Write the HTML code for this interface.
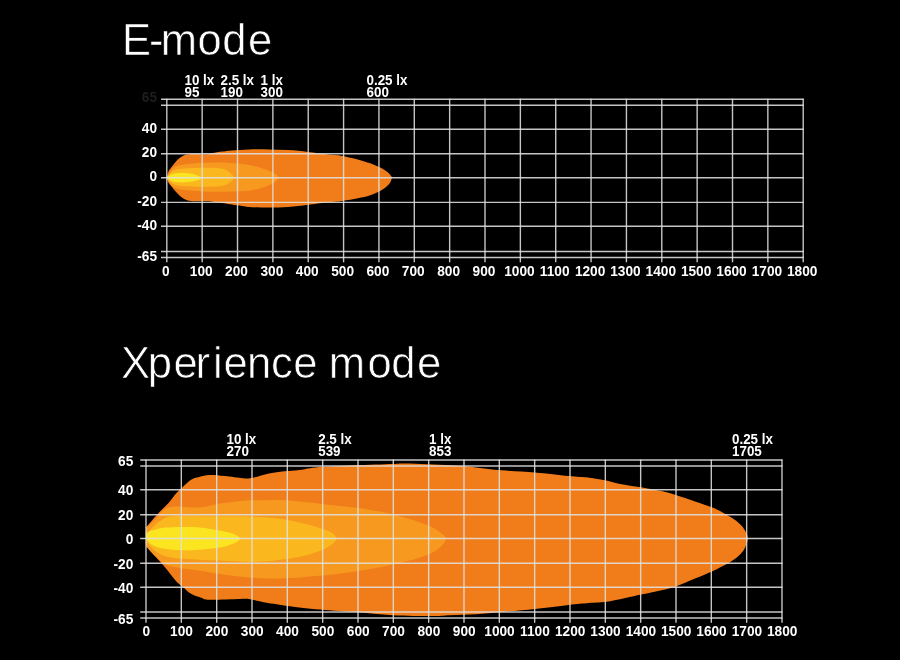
<!DOCTYPE html>
<html><head><meta charset="utf-8"><title>Beam pattern</title>
<style>
html,body{margin:0;padding:0;background:#000;}
body{width:900px;height:660px;overflow:hidden;}
svg{display:block;}
.ttl{font-family:"Liberation Sans",sans-serif;font-size:39px;fill:#fff;}
.lab{font-family:"Liberation Sans",sans-serif;font-size:13.7px;font-weight:bold;fill:#fff;}
.lx{font-size:13.4px;}
</style></head><body>
<svg width="900" height="660" viewBox="0 0 900 660">
<rect width="900" height="660" fill="#000"/>
<text class="ttl" x="122 149 160.8 197.6 222.3 248.1" y="54.6" style="font-size:43.5px" stroke="#000" stroke-width="0.6">E-mode</text>
<text class="ttl" x="121 147.8 173.6 195.6 213.1 223.6 247 270.9 293.3 317 328.7 367.4 391.3 416.9" y="377.8" style="font-size:43.6px" stroke="#000" stroke-width="0.7">Xperience mode</text>
<path fill="#f07d1a" d="M167.2 177.7 C167.2 175.9 167.6 173.5 168.4 171.7 C169.2 169.9 170.6 168.4 171.8 166.8 C173.0 165.2 174.3 163.4 175.6 162.0 C176.9 160.6 178.0 159.2 179.5 158.1 C181.0 157.0 182.8 155.8 184.4 155.2 C186.0 154.5 186.5 154.4 189.2 154.2 C191.9 154.0 197.7 154.2 200.8 154.2 C203.9 154.2 205.3 154.4 207.6 154.2 C209.9 154.0 212.0 153.2 214.4 152.8 C216.8 152.4 219.3 152.0 222.2 151.6 C225.1 151.2 227.4 150.8 231.9 150.4 C236.4 150.0 243.2 149.6 249.4 149.4 C255.6 149.2 262.3 149.3 268.8 149.4 C275.3 149.5 281.7 149.7 288.2 150.1 C294.7 150.5 301.6 151.3 308.0 152.0 C314.4 152.7 321.0 153.7 326.7 154.3 C332.4 155.0 337.0 155.1 342.2 155.9 C347.4 156.8 353.1 158.2 357.8 159.4 C362.5 160.6 366.6 162.0 370.2 163.3 C373.8 164.6 376.6 165.8 379.5 167.2 C382.4 168.6 385.4 170.4 387.3 171.9 C389.2 173.4 390.5 174.9 391.2 176.0 C391.9 177.1 392.1 177.0 391.7 178.4 C391.3 179.8 390.7 182.3 388.9 184.3 C387.1 186.3 384.2 188.7 381.1 190.5 C378.0 192.3 374.1 193.9 370.2 195.2 C366.3 196.5 362.5 197.3 357.8 198.3 C353.1 199.3 347.4 200.3 342.2 201.0 C337.0 201.7 332.4 201.9 326.7 202.5 C321.0 203.1 314.4 204.0 308.0 204.8 C301.6 205.6 294.7 206.6 288.2 207.1 C281.7 207.6 275.3 207.6 268.8 207.6 C262.3 207.6 254.2 207.4 249.4 207.1 C244.6 206.8 242.9 206.1 239.7 205.6 C236.5 205.1 232.6 204.6 230.0 204.2 C227.4 203.8 226.7 203.6 224.1 203.2 C221.5 202.8 217.2 202.3 214.4 202.0 C211.7 201.7 210.5 201.4 207.6 201.3 C204.7 201.2 200.1 201.4 197.0 201.3 C193.9 201.2 191.5 201.3 189.2 200.8 C186.9 200.3 185.0 199.3 183.4 198.4 C181.8 197.5 180.8 196.6 179.5 195.5 C178.2 194.4 176.9 193.1 175.6 191.6 C174.3 190.1 173.0 188.2 171.8 186.7 C170.6 185.2 169.2 183.9 168.4 182.4 C167.6 180.9 167.2 179.5 167.2 177.7Z"/>
<path fill="#f6991e" d="M167.2 177.7 C167.2 175.0 170.4 171.4 171.8 169.5 C173.2 167.6 173.7 167.3 175.6 166.5 C177.5 165.7 178.9 165.0 183.4 164.4 C187.9 163.8 196.3 163.0 202.8 162.7 C209.3 162.4 217.7 162.4 222.2 162.5 C226.7 162.6 226.3 162.7 230.0 163.0 C233.7 163.3 240.0 163.6 244.5 164.2 C249.0 164.8 253.1 165.7 257.2 166.8 C261.2 167.9 265.7 169.5 268.8 170.7 C271.9 171.9 274.0 173.0 275.6 174.1 C277.2 175.2 278.5 176.3 278.5 177.5 C278.5 178.7 277.2 180.1 275.6 181.4 C274.0 182.7 271.6 184.1 268.8 185.3 C266.1 186.5 263.2 187.7 259.1 188.7 C255.1 189.7 249.3 190.6 244.5 191.1 C239.7 191.6 233.7 191.5 230.0 191.6 C226.3 191.7 226.7 191.8 222.2 191.8 C217.7 191.8 209.3 191.7 202.8 191.4 C196.3 191.1 187.9 190.7 183.4 190.1 C178.9 189.5 177.5 188.8 175.6 188.0 C173.7 187.2 173.2 187.2 171.8 185.5 C170.4 183.8 167.2 180.4 167.2 177.7Z"/>
<path fill="#fbb81e" d="M167.2 177.7 C167.2 176.0 169.5 173.8 171.0 172.5 C172.5 171.2 173.1 170.5 176.0 169.8 C178.9 169.1 182.9 168.6 188.2 168.3 C193.5 168.0 201.9 167.7 207.6 167.8 C213.3 167.9 218.6 168.1 222.2 168.8 C225.8 169.5 227.1 170.5 229.0 172.0 C230.9 173.5 233.8 175.9 233.8 177.7 C233.8 179.5 230.9 181.7 229.0 183.0 C227.1 184.3 225.8 185.2 222.2 185.8 C218.6 186.4 214.1 186.6 207.6 186.7 C201.1 186.8 188.7 186.5 183.4 186.2 C178.1 185.9 178.1 185.6 176.0 185.0 C173.9 184.4 172.5 183.7 171.0 182.5 C169.5 181.3 167.2 179.4 167.2 177.7Z"/>
<path fill="#fbe520" d="M167.2 177.7 C167.2 176.7 169.5 175.2 171.0 174.5 C172.5 173.8 173.9 173.5 176.0 173.2 C178.1 172.9 180.7 172.6 183.4 172.7 C186.1 172.8 189.6 173.3 192.0 173.8 C194.4 174.3 196.4 175.2 198.0 175.8 C199.6 176.5 201.8 177.0 201.8 177.7 C201.8 178.4 199.6 179.4 198.0 180.0 C196.4 180.6 194.4 181.1 192.0 181.5 C189.6 181.9 186.1 182.3 183.4 182.4 C180.7 182.5 178.1 182.3 176.0 182.0 C173.9 181.7 172.5 181.4 171.0 180.7 C169.5 180.0 167.2 178.7 167.2 177.7Z"/>
<g stroke="#e0e0e0" stroke-opacity="0.88" stroke-width="1.4" fill="none"><line x1="161.0" y1="99.20" x2="803.7" y2="99.20"/><line x1="161.0" y1="105.20" x2="803.7" y2="105.20"/><line x1="161.0" y1="129.20" x2="803.7" y2="129.20"/><line x1="161.0" y1="153.80" x2="803.7" y2="153.80"/><line x1="161.0" y1="177.80" x2="803.7" y2="177.80"/><line x1="161.0" y1="202.40" x2="803.7" y2="202.40"/><line x1="161.0" y1="226.30" x2="803.7" y2="226.30"/><line x1="161.0" y1="251.50" x2="803.7" y2="251.50"/><line x1="161.0" y1="257.50" x2="803.7" y2="257.50"/><line x1="166.80" y1="98.7" x2="166.80" y2="262.3"/><line x1="202.16" y1="98.7" x2="202.16" y2="262.3"/><line x1="237.51" y1="98.7" x2="237.51" y2="262.3"/><line x1="272.87" y1="98.7" x2="272.87" y2="262.3"/><line x1="308.22" y1="98.7" x2="308.22" y2="262.3"/><line x1="343.58" y1="98.7" x2="343.58" y2="262.3"/><line x1="378.94" y1="98.7" x2="378.94" y2="262.3"/><line x1="414.29" y1="98.7" x2="414.29" y2="262.3"/><line x1="449.65" y1="98.7" x2="449.65" y2="262.3"/><line x1="485.00" y1="98.7" x2="485.00" y2="262.3"/><line x1="520.36" y1="98.7" x2="520.36" y2="262.3"/><line x1="555.72" y1="98.7" x2="555.72" y2="262.3"/><line x1="591.07" y1="98.7" x2="591.07" y2="262.3"/><line x1="626.43" y1="98.7" x2="626.43" y2="262.3"/><line x1="661.78" y1="98.7" x2="661.78" y2="262.3"/><line x1="697.14" y1="98.7" x2="697.14" y2="262.3"/><line x1="732.50" y1="98.7" x2="732.50" y2="262.3"/><line x1="767.85" y1="98.7" x2="767.85" y2="262.3"/><line x1="803.21" y1="98.7" x2="803.21" y2="262.3"/></g>
<g class="lab" text-anchor="end"><text transform="translate(157.1 101.5) scale(1 1.04)" fill="#1e1e1e">65</text><text transform="translate(157.1 132.5) scale(1 1.04)">40</text><text transform="translate(157.1 157.1) scale(1 1.04)">20</text><text transform="translate(157.1 181.1) scale(1 1.04)">0</text><text transform="translate(157.1 205.7) scale(1 1.04)">-20</text><text transform="translate(157.1 229.6) scale(1 1.04)">-40</text><text transform="translate(157.1 260.8) scale(1 1.04)">-65</text></g>
<g class="lab" text-anchor="middle"><text transform="translate(165.8 275.5) scale(1 1.04)">0</text><text transform="translate(201.2 275.5) scale(1 1.04)">100</text><text transform="translate(236.5 275.5) scale(1 1.04)">200</text><text transform="translate(271.9 275.5) scale(1 1.04)">300</text><text transform="translate(307.2 275.5) scale(1 1.04)">400</text><text transform="translate(342.6 275.5) scale(1 1.04)">500</text><text transform="translate(377.9 275.5) scale(1 1.04)">600</text><text transform="translate(413.3 275.5) scale(1 1.04)">700</text><text transform="translate(448.6 275.5) scale(1 1.04)">800</text><text transform="translate(484.0 275.5) scale(1 1.04)">900</text><text transform="translate(519.4 275.5) scale(1 1.04)">1000</text><text transform="translate(554.7 275.5) scale(1 1.04)">1100</text><text transform="translate(590.1 275.5) scale(1 1.04)">1200</text><text transform="translate(625.4 275.5) scale(1 1.04)">1300</text><text transform="translate(660.8 275.5) scale(1 1.04)">1400</text><text transform="translate(696.1 275.5) scale(1 1.04)">1500</text><text transform="translate(731.5 275.5) scale(1 1.04)">1600</text><text transform="translate(766.9 275.5) scale(1 1.04)">1700</text><text transform="translate(802.2 275.5) scale(1 1.04)">1800</text></g>
<g class="lab lx"><text transform="translate(184.5 85.0) scale(1 1.04)">10 lx</text><text transform="translate(184.5 97.0) scale(1 1.04)">95</text><text transform="translate(220.5 85.0) scale(1 1.04)">2.5 lx</text><text transform="translate(220.5 97.0) scale(1 1.04)">190</text><text transform="translate(260.5 85.0) scale(1 1.04)">1 lx</text><text transform="translate(260.5 97.0) scale(1 1.04)">300</text><text transform="translate(366.5 85.0) scale(1 1.04)">0.25 lx</text><text transform="translate(366.5 97.0) scale(1 1.04)">600</text></g>
<path fill="#f07d1a" d="M146.0 538.5 C146.0 535.3 146.1 529.3 146.1 527.5 C146.1 525.7 144.1 529.9 146.1 527.5 C148.1 525.1 154.6 517.3 158.3 513.3 C162.0 509.3 165.3 506.6 168.3 503.3 C171.3 500.0 173.9 496.1 176.1 493.6 C178.2 491.1 178.6 490.9 181.2 488.5 C183.8 486.1 188.5 481.4 191.5 479.5 C194.5 477.6 196.2 477.6 199.2 476.9 C202.2 476.2 205.3 475.2 209.6 475.1 C213.9 475.0 219.4 475.6 225.0 476.1 C230.6 476.6 238.3 477.9 243.0 478.2 C247.7 478.5 249.0 478.5 253.3 477.7 C257.6 476.9 263.6 474.6 268.8 473.5 C274.0 472.4 279.1 471.8 284.3 471.2 C289.5 470.6 294.8 470.5 300.0 469.9 C305.2 469.3 306.7 468.2 315.8 467.4 C324.9 466.6 341.5 465.9 354.4 465.3 C367.3 464.7 384.4 464.3 393.0 464.0 C401.6 463.7 396.4 463.3 405.9 463.5 C415.4 463.7 438.4 464.7 450.0 465.3 C461.6 465.9 467.2 466.6 475.8 467.4 C484.4 468.2 491.6 469.4 501.5 470.3 C511.4 471.2 523.8 471.5 535.0 472.5 C546.2 473.5 559.5 475.2 568.5 476.1 C577.5 477.0 583.1 477.0 589.1 477.7 C595.1 478.4 599.5 479.2 604.6 480.2 C609.8 481.2 614.0 482.7 620.0 483.9 C626.0 485.1 634.0 486.0 640.9 487.2 C647.8 488.4 655.7 489.8 661.5 491.1 C667.3 492.4 670.1 493.2 675.7 494.9 C681.3 496.6 688.8 499.2 695.0 501.4 C701.2 503.5 707.9 505.7 713.0 507.8 C718.1 509.9 722.0 512.1 725.9 514.2 C729.8 516.4 733.4 518.6 736.2 520.7 C739.0 522.9 741.0 525.0 742.7 527.1 C744.4 529.2 745.6 531.7 746.5 533.6 C747.4 535.5 747.9 536.8 747.8 538.7 C747.7 540.6 746.9 543.1 746.0 545.2 C745.1 547.4 744.3 549.5 742.7 551.6 C741.1 553.7 739.0 555.9 736.2 558.0 C733.4 560.1 729.8 562.4 725.9 564.5 C722.0 566.6 718.1 568.5 713.0 570.9 C707.9 573.2 701.2 576.0 695.0 578.6 C688.8 581.2 681.3 584.5 675.7 586.4 C670.1 588.3 667.3 588.8 661.5 590.2 C655.7 591.6 649.5 592.8 640.9 594.6 C632.3 596.5 618.6 599.9 610.0 601.3 C601.4 602.7 596.0 602.5 589.1 603.1 C582.2 603.7 577.5 603.9 568.5 604.9 C559.5 605.9 546.2 607.8 535.0 609.0 C523.8 610.2 511.4 611.2 501.5 612.1 C491.6 613.0 484.4 613.7 475.8 614.2 C467.2 614.7 457.4 614.9 450.0 615.2 C442.6 615.5 441.2 616.0 431.7 616.0 C422.2 616.0 405.9 615.9 393.0 615.2 C380.1 614.6 367.3 613.1 354.4 612.1 C341.5 611.1 326.5 610.2 315.8 609.2 C305.1 608.2 296.5 607.1 290.0 606.3 C283.5 605.5 280.9 604.8 276.7 604.2 C272.5 603.6 269.4 603.3 265.0 602.5 C260.6 601.7 254.2 599.8 250.0 599.2 C245.8 598.6 246.7 598.9 240.0 599.0 C233.3 599.1 216.0 600.0 209.6 599.8 C203.2 599.6 204.8 599.0 201.8 598.0 C198.8 597.0 194.5 595.8 191.5 594.1 C188.5 592.4 186.4 589.9 183.8 587.7 C181.2 585.6 179.1 584.4 176.1 581.2 C173.1 578.0 169.2 572.4 165.8 568.3 C162.4 564.2 158.8 560.4 155.5 556.8 C152.2 553.2 147.7 548.2 146.1 546.5 C144.5 544.8 146.1 547.8 146.1 546.5 C146.1 545.2 146.0 541.7 146.0 538.5Z"/>
<path fill="#f6991e" d="M146.0 538.5 C146.0 535.6 145.0 531.8 146.6 528.5 C148.2 525.2 152.4 522.3 155.5 519.0 C158.6 515.7 161.8 510.9 164.9 508.9 C168.0 506.8 171.0 507.1 173.8 506.7 C176.6 506.3 178.4 506.5 181.6 506.7 C184.8 506.9 189.0 507.6 192.7 507.6 C196.4 507.6 199.7 507.5 203.8 506.9 C207.9 506.3 212.7 504.8 217.1 504.0 C221.5 503.2 225.6 502.8 230.4 502.2 C235.2 501.6 241.1 500.9 246.0 500.6 C250.9 500.3 255.0 500.4 260.0 500.3 C265.0 500.2 271.0 499.9 276.0 500.0 C281.0 500.1 284.3 500.2 290.0 500.6 C295.7 501.0 303.3 501.9 310.0 502.6 C316.7 503.3 323.3 504.3 330.0 505.0 C336.7 505.7 343.8 506.3 350.0 507.0 C356.2 507.7 360.1 508.2 367.3 509.4 C374.5 510.6 384.4 512.1 393.0 514.2 C401.6 516.3 411.9 519.6 418.8 522.0 C425.7 524.4 430.2 526.2 434.3 528.4 C438.4 530.5 441.4 533.2 443.3 534.9 C445.2 536.6 445.8 537.2 445.8 538.7 C445.8 540.2 445.2 541.8 443.3 543.9 C441.4 546.0 438.4 549.2 434.3 551.6 C430.2 554.0 425.7 555.9 418.8 558.0 C411.9 560.1 401.6 562.6 393.0 564.5 C384.4 566.4 375.9 568.1 367.3 569.6 C358.7 571.1 350.1 572.4 341.5 573.5 C332.9 574.6 324.4 575.3 315.8 576.1 C307.2 576.9 297.8 577.7 290.0 578.1 C282.2 578.5 275.8 578.7 268.8 578.6 C261.8 578.5 255.5 578.0 248.2 577.4 C240.9 576.8 232.7 575.9 225.0 574.8 C217.3 573.7 209.1 572.0 201.8 570.9 C194.5 569.8 187.2 569.4 181.2 568.3 C175.2 567.2 170.1 566.5 165.8 564.5 C161.5 562.5 158.7 559.1 155.5 556.0 C152.3 552.9 148.2 548.9 146.6 546.0 C145.0 543.1 146.0 541.4 146.0 538.5Z"/>
<path fill="#fbb81e" d="M146.3 538.5 C146.3 535.7 147.9 532.7 150.3 529.7 C152.7 526.7 156.7 522.9 160.6 520.7 C164.5 518.5 164.1 517.0 173.5 516.3 C182.9 515.6 203.6 516.2 217.3 516.3 C231.0 516.4 244.7 516.3 255.9 516.8 C267.1 517.3 276.0 518.2 284.3 519.4 C292.6 520.6 299.4 522.5 305.5 524.0 C311.6 525.5 316.6 527.0 320.9 528.4 C325.2 529.8 328.6 530.7 331.2 532.3 C333.8 533.9 336.2 536.1 336.4 538.0 C336.6 539.9 335.1 541.9 332.5 543.9 C329.9 545.9 325.4 548.4 320.9 550.3 C316.4 552.2 311.6 554.0 305.5 555.5 C299.4 557.0 292.6 558.2 284.3 559.3 C276.0 560.4 267.1 561.7 255.9 561.9 C244.7 562.1 228.0 561.0 217.3 560.6 C206.6 560.2 198.8 559.7 191.5 559.3 C184.2 558.9 178.7 558.9 173.5 558.0 C168.3 557.1 164.5 556.1 160.6 554.2 C156.7 552.3 152.7 549.1 150.3 546.5 C147.9 543.9 146.3 541.3 146.3 538.5Z"/>
<path fill="#fbe520" d="M146.3 538.5 C145.4 536.3 146.2 533.5 147.7 532.0 C149.2 530.5 152.5 530.4 155.5 529.7 C158.5 529.0 159.8 528.0 165.8 527.6 C171.8 527.2 183.8 526.8 191.5 527.1 C199.2 527.4 206.1 528.3 212.1 529.2 C218.1 530.1 223.5 531.3 227.6 532.3 C231.7 533.3 234.5 534.3 236.6 535.4 C238.7 536.5 240.2 537.5 240.0 538.7 C239.8 539.9 237.8 541.3 235.3 542.6 C232.8 543.9 229.7 545.3 225.0 546.4 C220.3 547.5 213.4 548.4 207.0 549.0 C200.6 549.6 193.3 550.3 186.4 550.3 C179.5 550.3 171.4 549.9 165.8 549.0 C160.2 548.1 156.2 547.0 152.9 545.2 C149.7 543.5 147.2 540.7 146.3 538.5Z"/>
<g stroke="#e0e0e0" stroke-opacity="0.88" stroke-width="1.4" fill="none"><line x1="140.2" y1="460.00" x2="782.5" y2="460.00"/><line x1="140.2" y1="466.00" x2="782.5" y2="466.00"/><line x1="140.2" y1="489.70" x2="782.5" y2="489.70"/><line x1="140.2" y1="514.70" x2="782.5" y2="514.70"/><line x1="140.2" y1="538.50" x2="782.5" y2="538.50"/><line x1="140.2" y1="563.30" x2="782.5" y2="563.30"/><line x1="140.2" y1="587.20" x2="782.5" y2="587.20"/><line x1="140.2" y1="612.00" x2="782.5" y2="612.00"/><line x1="140.2" y1="618.00" x2="782.5" y2="618.00"/><line x1="146.00" y1="459.5" x2="146.00" y2="622.8"/><line x1="181.33" y1="459.5" x2="181.33" y2="622.8"/><line x1="216.67" y1="459.5" x2="216.67" y2="622.8"/><line x1="252.00" y1="459.5" x2="252.00" y2="622.8"/><line x1="287.33" y1="459.5" x2="287.33" y2="622.8"/><line x1="322.66" y1="459.5" x2="322.66" y2="622.8"/><line x1="358.00" y1="459.5" x2="358.00" y2="622.8"/><line x1="393.33" y1="459.5" x2="393.33" y2="622.8"/><line x1="428.66" y1="459.5" x2="428.66" y2="622.8"/><line x1="464.00" y1="459.5" x2="464.00" y2="622.8"/><line x1="499.33" y1="459.5" x2="499.33" y2="622.8"/><line x1="534.66" y1="459.5" x2="534.66" y2="622.8"/><line x1="570.00" y1="459.5" x2="570.00" y2="622.8"/><line x1="605.33" y1="459.5" x2="605.33" y2="622.8"/><line x1="640.66" y1="459.5" x2="640.66" y2="622.8"/><line x1="676.00" y1="459.5" x2="676.00" y2="622.8"/><line x1="711.33" y1="459.5" x2="711.33" y2="622.8"/><line x1="746.66" y1="459.5" x2="746.66" y2="622.8"/><line x1="781.99" y1="459.5" x2="781.99" y2="622.8"/></g>
<g class="lab" text-anchor="end"><text transform="translate(133.3 465.7) scale(1 1.04)">65</text><text transform="translate(133.3 495.4) scale(1 1.04)">40</text><text transform="translate(133.3 520.4) scale(1 1.04)">20</text><text transform="translate(133.3 544.2) scale(1 1.04)">0</text><text transform="translate(133.3 569.0) scale(1 1.04)">-20</text><text transform="translate(133.3 592.9) scale(1 1.04)">-40</text><text transform="translate(133.3 623.7) scale(1 1.04)">-65</text></g>
<g class="lab" text-anchor="middle"><text transform="translate(146.2 636.0) scale(1 1.04)">0</text><text transform="translate(181.5 636.0) scale(1 1.04)">100</text><text transform="translate(216.9 636.0) scale(1 1.04)">200</text><text transform="translate(252.2 636.0) scale(1 1.04)">300</text><text transform="translate(287.5 636.0) scale(1 1.04)">400</text><text transform="translate(322.9 636.0) scale(1 1.04)">500</text><text transform="translate(358.2 636.0) scale(1 1.04)">600</text><text transform="translate(393.5 636.0) scale(1 1.04)">700</text><text transform="translate(428.9 636.0) scale(1 1.04)">800</text><text transform="translate(464.2 636.0) scale(1 1.04)">900</text><text transform="translate(499.5 636.0) scale(1 1.04)">1000</text><text transform="translate(534.9 636.0) scale(1 1.04)">1100</text><text transform="translate(570.2 636.0) scale(1 1.04)">1200</text><text transform="translate(605.5 636.0) scale(1 1.04)">1300</text><text transform="translate(640.9 636.0) scale(1 1.04)">1400</text><text transform="translate(676.2 636.0) scale(1 1.04)">1500</text><text transform="translate(711.5 636.0) scale(1 1.04)">1600</text><text transform="translate(746.9 636.0) scale(1 1.04)">1700</text><text transform="translate(782.2 636.0) scale(1 1.04)">1800</text></g>
<g class="lab lx"><text transform="translate(226.5 443.5) scale(1 1.04)">10 lx</text><text transform="translate(226.5 455.5) scale(1 1.04)">270</text><text transform="translate(318.2 443.5) scale(1 1.04)">2.5 lx</text><text transform="translate(318.2 455.5) scale(1 1.04)">539</text><text transform="translate(429.0 443.5) scale(1 1.04)">1 lx</text><text transform="translate(429.0 455.5) scale(1 1.04)">853</text><text transform="translate(732.0 443.5) scale(1 1.04)">0.25 lx</text><text transform="translate(732.0 455.5) scale(1 1.04)">1705</text></g>
</svg>
</body></html>
